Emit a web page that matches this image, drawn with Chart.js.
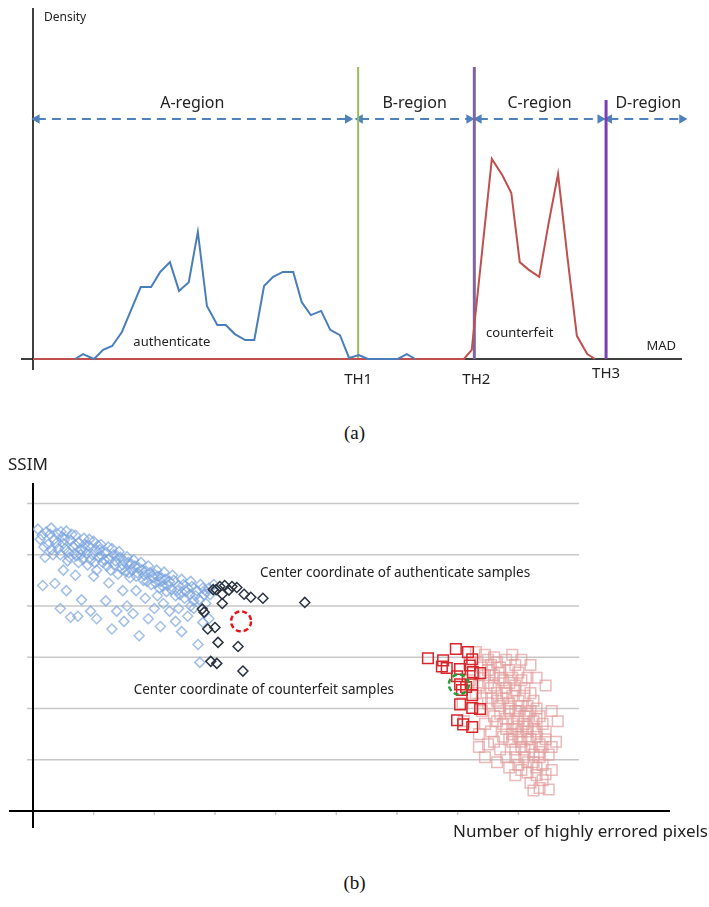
<!DOCTYPE html>
<html>
<head>
<meta charset="utf-8">
<script src="https://cdn.jsdelivr.net/npm/chart.js@4/dist/chart.umd.min.js"></script>
<style>
  body { margin: 0; background: #fff; }
  #page { position: relative; width: 709px; height: 907px; }
  canvas { position: absolute; left: 0; }
  #chartA { top: 0; }
  #chartB { top: 450px; }
  .cap { position: absolute; width: 709px; text-align: center; font-family: "Liberation Serif", "DejaVu Serif", serif; font-size: 19px; color: #111; }
</style>
</head>
<body>
<div id="page">
  <canvas id="chartA" width="709" height="400"></canvas>
  <div class="cap" style="top:422px;">(a)</div>
  <canvas id="chartB" width="709" height="400"></canvas>
  <div class="cap" style="top:872px;">(b)</div>
</div>
<script>
// ---------- (a) density of MAD ----------
const authMad = [6.5, 7.7, 9.4, 10.8, 12.2, 13.7, 15.3, 16.6, 18.2, 19.6, 21.1, 22.5, 24.0, 25.4, 26.8, 28.4, 29.7, 31.1, 32.7, 34.1, 35.6, 37.0, 38.5, 40.1, 41.4, 42.8, 44.4, 45.8, 47.3, 48.7, 50.2, 51.6, 56.2, 57.6, 58.9];
const authDensity = [0, 1.4, 0, 2.6, 3.7, 7.7, 14.8, 20.5, 20.5, 24.8, 27.6, 19.4, 21.9, 36.2, 15.1, 9.7, 9.7, 7.1, 5.4, 5.4, 20.8, 23.4, 24.8, 24.8, 16.2, 12.5, 13.7, 8.3, 6.8, 0.3, 1.1, 0, 0, 1.4, 0];
const fakeMad = [0, 66.4, 67.6, 70.7, 72.3, 73.7, 75.0, 76.4, 78.0, 79.4, 80.9, 82.4, 83.8, 85.4, 86.6];
const fakeDensity = [0, 0, 2.6, 57.0, 52.4, 47.3, 27.6, 25.4, 23.4, 38.2, 52.7, 28.2, 6.6, 1.4, 0];

const thresholdNames = ['TH1', 'TH2', 'TH3'];
const thresholdMad = [50.1, 68.0, 88.3];
const thresholdTop = [83.2, 83.2, 73.8];
const thresholdColors = ['#9bbb59', '#8064a2', '#7a3fb0'];

const regionNames = ['A-region', 'B-region', 'C-region', 'D-region'];
const regionStart = [0.6, 50.4, 68.7, 88.8];
const regionEnd = [48.5, 67.2, 87.4, 100];
const regionLevel = 68.4;

function pts(xs, ys) {
    return xs.map((x, i) => ({ x: x, y: ys[i] }));
}

const densityDatasets = [];
densityDatasets.push({ data: pts(authMad, authDensity), borderColor: '#4a7ebb', borderWidth: 2 });
densityDatasets.push({ data: pts(fakeMad, fakeDensity), borderColor: '#c0504d', borderWidth: 2 });
thresholdMad.forEach((th, i) => {
    densityDatasets.push({
        data: [{ x: th, y: 0 }, { x: th, y: thresholdTop[i] }],
        borderColor: thresholdColors[i],
        borderWidth: i === 0 ? 2 : 3
    });
});
regionNames.forEach((name, i) => {
    densityDatasets.push({
        data: [{ x: regionStart[i], y: regionLevel }, { x: regionEnd[i], y: regionLevel }],
        borderColor: '#4f81bd',
        backgroundColor: '#4f81bd',
        borderWidth: 2,
        borderDash: [9, 6],
        pointStyle: 'triangle',
        pointRadius: 3.5,
        pointRotation: [-90, 90]
    });
});

const densityDecor = {
    id: 'densityDecor',
    beforeDatasetsDraw(chart) {
        const { ctx, chartArea: a } = chart;
        ctx.save();
        ctx.strokeStyle = '#000';
        ctx.lineWidth = 1.5;
        ctx.beginPath();
        ctx.moveTo(a.left - 12, a.bottom);
        ctx.lineTo(a.right, a.bottom);
        ctx.moveTo(a.left, a.top);
        ctx.lineTo(a.left, a.bottom + 11);
        ctx.stroke();
        ctx.restore();
    },
    afterDatasetsDraw(chart) {
        const { ctx, chartArea: a, scales } = chart;
        const x = scales.x, y = scales.y;
        ctx.save();
        ctx.fillStyle = '#222';
        ctx.textBaseline = 'middle';
        ctx.textAlign = 'center';
        ctx.font = '16px "Noto Sans"';
        regionNames.forEach((name, i) => {
            const mid = (regionStart[i] + regionEnd[i]) / 2;
            ctx.fillText(name, x.getPixelForValue(i === 3 ? 94.8 : mid), y.getPixelForValue(regionLevel) - 15);
        });
        ctx.font = '15px "Noto Sans"';
        thresholdNames.forEach((name, i) => {
            ctx.fillText(name, x.getPixelForValue(thresholdMad[i]) + (i === 1 ? 2 : 0), a.bottom + (i === 2 ? 15 : 21));
        });
        ctx.font = '13px "Noto Sans"';
        ctx.fillText('authenticate', x.getPixelForValue(21.4), y.getPixelForValue(4.8));
        ctx.fillText('counterfeit', x.getPixelForValue(75.0), y.getPixelForValue(7.4));
        ctx.fillText('MAD', x.getPixelForValue(96.8), y.getPixelForValue(3.7));
        ctx.textAlign = 'left';
        ctx.font = '12px "Noto Sans"';
        ctx.fillText('Density', a.left + 11, a.top + 10);
        ctx.restore();
    }
};

new Chart(document.getElementById('chartA'), {
    type: 'scatter',
    data: { datasets: densityDatasets },
    options: {
        responsive: false,
        animation: false,
        showLine: true,
        layout: { padding: { left: 33, right: 27, top: 8, bottom: 41 } },
        elements: { point: { radius: 0 }, line: { tension: 0 } },
        datasets: { scatter: { clip: false } },
        plugins: { legend: { display: false }, tooltip: { enabled: false } },
        scales: {
            x: { type: 'linear', min: 0, max: 100, display: false },
            y: { type: 'linear', min: 0, max: 100, display: false }
        }
    },
    plugins: [densityDecor]
});

// ---------- (b) SSIM vs number of highly errored pixels ----------
const authenticLight = [
    [0.08, 5.50], [0.15, 5.38], [0.22, 5.45], [0.25, 5.20], [0.30, 5.52], [0.35, 5.30], [0.40, 5.41], [0.42, 5.12],
    [0.48, 5.35], [0.50, 5.22], [0.55, 5.46], [0.58, 5.05], [0.62, 5.28], [0.66, 5.15], [0.70, 5.38], [0.72, 4.98],
    [0.76, 5.24], [0.80, 5.10], [0.84, 5.32], [0.88, 5.02], [0.92, 5.18], [0.95, 4.90], [1.00, 5.26], [1.03, 5.08],
    [1.08, 4.95], [1.12, 5.20], [1.15, 4.85], [1.20, 5.05], [1.25, 4.92], [1.30, 5.12], [1.34, 4.80], [1.38, 4.98],
    [1.42, 5.06], [1.46, 4.72], [1.50, 4.88], [1.55, 4.96], [1.58, 4.65], [1.62, 4.82], [1.66, 4.90], [1.70, 4.58],
    [1.74, 4.75], [1.78, 4.85], [1.82, 4.50], [1.86, 4.68], [1.90, 4.78], [1.95, 4.42], [2.00, 4.62], [2.04, 4.70],
    [2.08, 4.35], [2.12, 4.55], [2.16, 4.66], [2.20, 4.28], [2.25, 4.48], [2.30, 4.60], [2.35, 4.20], [2.40, 4.40],
    [2.45, 4.52], [2.50, 4.15], [2.55, 4.35], [2.60, 4.48], [2.65, 4.10], [2.70, 4.30], [2.76, 4.42], [2.82, 4.22],
    [2.90, 4.35], [2.98, 4.42], [0.30, 5.10], [0.45, 5.00], [0.60, 4.95], [0.75, 4.85], [0.90, 4.80], [1.05, 4.70],
    [0.20, 4.95], [0.52, 5.30], [0.68, 5.02], [0.85, 5.20], [1.10, 5.10], [1.22, 4.78], [1.40, 4.62], [1.60, 4.55],
    [0.16, 4.40], [0.36, 4.44], [0.45, 3.95], [0.55, 4.30], [0.62, 3.78], [0.74, 3.80], [0.80, 4.12], [0.95, 3.90],
    [1.05, 3.75], [1.20, 4.10], [1.30, 3.55], [1.50, 3.70], [1.55, 4.00], [1.75, 3.42], [1.90, 3.75], [2.10, 3.60],
    [2.25, 3.90], [2.45, 3.50], [2.55, 3.80], [2.72, 3.25], [2.80, 3.68], [2.65, 3.95], [2.00, 3.95], [1.65, 3.85],
    [1.38, 3.90], [2.35, 3.70], [2.90, 3.75], [2.75, 2.90], [1.48, 4.30], [1.85, 4.15], [2.15, 4.05], [2.40, 3.95],
    [0.12, 5.30], [0.18, 5.15], [0.28, 5.40], [0.33, 5.00], [0.38, 5.22], [0.46, 5.45], [0.53, 5.12], [0.57, 4.88],
    [0.64, 5.40], [0.69, 5.20], [0.78, 5.00], [0.82, 4.92], [0.86, 5.12], [0.93, 5.30], [0.98, 5.00], [1.02, 4.85],
    [1.07, 5.18], [1.13, 4.98], [1.18, 4.90], [1.24, 5.15], [1.28, 4.70], [1.33, 5.00], [1.36, 4.88], [1.44, 4.95],
    [1.48, 4.80], [1.52, 4.68], [1.57, 4.85], [1.63, 4.70], [1.68, 4.78], [1.72, 4.65], [1.80, 4.70], [1.84, 4.60],
    [1.88, 4.48], [1.93, 4.65], [1.98, 4.55], [2.02, 4.45], [2.06, 4.58], [2.10, 4.48], [2.14, 4.38], [2.18, 4.52],
    [2.22, 4.40], [2.28, 4.32], [2.32, 4.50], [2.38, 4.30], [2.42, 4.22], [2.48, 4.42], [2.52, 4.28], [2.58, 4.22],
    [2.62, 4.38], [2.68, 4.20], [2.74, 4.12], [2.80, 4.35], [2.86, 4.28], [2.92, 4.22], [1.00, 4.58], [1.25, 4.45],
    [1.70, 4.30], [2.05, 4.20], [2.60, 4.00], [2.85, 4.05], [0.50, 4.70], [0.70, 4.60]
];
const authenticDark = [
    [2.97, 4.32], [3.08, 4.38], [3.16, 4.40], [3.23, 4.31], [3.36, 4.36], [3.12, 4.23], [3.48, 4.23], [3.59, 4.17],
    [3.79, 4.15], [3.12, 4.05], [4.48, 4.07], [2.79, 3.94], [2.82, 3.88], [3.00, 3.58], [2.88, 3.55], [3.05, 3.29],
    [3.38, 3.21], [2.93, 2.92], [3.03, 2.88], [3.46, 2.73], [3.02, 4.32], [3.28, 4.38]
];
const counterfeitLight = [
    [7.30, 3.10], [7.45, 3.05], [7.60, 3.00], [7.55, 2.85], [7.70, 2.80], [7.85, 2.75], [7.40, 2.80], [7.90, 2.60],
    [7.75, 2.55], [7.60, 2.65], [8.05, 2.55], [8.10, 2.40], [7.95, 2.35], [7.50, 2.50], [7.80, 2.40], [8.20, 2.30],
    [7.65, 2.30], [8.00, 2.15], [7.85, 2.10], [8.15, 2.05], [7.70, 2.05], [8.30, 2.00], [7.55, 2.20], [7.95, 1.95],
    [8.10, 1.85], [7.80, 1.80], [8.25, 1.75], [8.40, 1.70], [7.65, 1.75], [8.00, 1.65], [8.15, 1.55], [7.90, 1.50],
    [8.30, 1.45], [8.45, 1.40], [7.75, 1.45], [8.05, 1.35], [8.20, 1.25], [7.95, 1.20], [8.35, 1.15], [8.50, 1.10],
    [8.10, 1.05], [8.25, 0.95], [8.40, 0.90], [8.00, 0.90], [8.15, 0.75], [8.30, 0.70], [8.45, 0.72], [8.20, 0.55],
    [8.35, 0.45], [8.50, 0.42], [8.65, 1.75], [8.62, 1.35], [7.08, 2.10], [7.10, 1.75], [7.35, 1.25], [7.45, 1.05],
    [7.60, 1.35], [7.65, 0.95], [7.85, 0.85], [8.55, 1.95], [8.45, 2.45], [8.30, 2.60], [8.20, 2.85], [8.05, 2.95],
    [7.90, 3.05], [7.20, 2.55], [7.30, 2.30], [7.40, 1.95], [7.55, 1.55], [7.20, 2.90], [7.75, 2.20], [7.90, 2.25],
    [8.05, 2.05], [7.85, 1.95], [8.20, 1.95], [7.70, 1.90], [8.00, 1.80], [8.35, 1.85], [7.90, 1.70], [8.10, 1.70],
    [8.25, 1.60], [7.80, 1.60], [8.00, 1.45], [8.15, 1.40], [8.35, 1.30], [7.90, 1.35], [8.10, 1.20], [8.25, 1.10],
    [8.40, 1.25], [7.95, 1.05], [8.30, 0.85], [8.05, 1.55], [7.60, 2.45], [7.85, 2.50], [8.00, 2.70], [7.70, 2.70],
    [7.50, 2.95], [8.15, 2.60], [7.45, 2.65], [7.50, 2.75], [7.65, 2.90], [7.80, 2.95], [7.95, 2.85], [7.70, 2.60],
    [7.55, 2.40], [7.80, 2.30], [7.95, 2.45], [8.10, 2.25], [8.25, 2.15], [7.65, 2.15], [7.85, 2.00], [8.00, 1.95],
    [8.15, 1.90], [8.30, 1.80], [7.75, 1.70], [7.95, 1.60], [8.15, 1.65], [8.30, 1.55], [8.45, 1.55], [7.85, 1.40],
    [8.05, 1.25], [8.20, 1.40], [8.35, 1.05], [8.15, 0.95], [8.05, 0.80], [8.40, 0.60], [8.25, 0.40], [8.55, 0.80],
    [8.55, 1.25], [7.40, 2.20], [7.35, 2.45], [7.50, 2.10], [7.45, 1.70], [7.60, 1.85], [7.35, 1.50], [7.70, 1.20],
    [7.50, 1.30], [7.80, 1.05], [7.95, 0.70]
];
const counterfeitDark = [
    [6.51, 2.98], [6.76, 2.94], [6.97, 3.16], [7.17, 3.10], [7.24, 2.96], [6.82, 2.79], [7.04, 2.77], [6.99, 2.63],
    [7.25, 2.71], [7.37, 2.69], [7.24, 2.47], [7.04, 2.47], [7.14, 2.42], [7.24, 2.26], [7.04, 2.08], [7.24, 2.01],
    [7.37, 1.99], [6.99, 1.77], [7.09, 1.69], [7.24, 1.64], [6.74, 2.82], [7.20, 2.84], [7.07, 2.36]
];
const ssimGrid = [1, 2, 3, 4, 5, 6];
const pixelTicks = [1, 2, 3, 4, 5, 6, 7, 8, 9];
const authCenter = [3.43, 3.70];
const fakeCenter = [7.02, 2.47];

function xy(list) {
    return list.map(p => ({ x: p[0], y: p[1] }));
}

const scatterDecor = {
    id: 'scatterDecor',
    beforeDatasetsDraw(chart) {
        const { ctx, chartArea: a, scales } = chart;
        const x = scales.x, y = scales.y;
        const gridEnd = x.getPixelForValue(9);
        ctx.save();
        ctx.strokeStyle = '#c8c8c8';
        ctx.lineWidth = 1.5;
        ctx.beginPath();
        ssimGrid.forEach(v => {
            const py = y.getPixelForValue(v);
            ctx.moveTo(a.left - 6, py);
            ctx.lineTo(gridEnd, py);
        });
        pixelTicks.forEach(v => {
            const px = x.getPixelForValue(v);
            ctx.moveTo(px, a.bottom);
            ctx.lineTo(px, a.bottom + 4);
        });
        ctx.stroke();
        ctx.strokeStyle = '#000';
        ctx.lineWidth = 2;
        ctx.beginPath();
        ctx.moveTo(a.left - 24, a.bottom);
        ctx.lineTo(a.right, a.bottom);
        ctx.moveTo(a.left, a.top);
        ctx.lineTo(a.left, a.bottom + 17);
        ctx.stroke();
        ctx.restore();
    },
    afterDatasetsDraw(chart) {
        const { ctx, chartArea: a, scales } = chart;
        const x = scales.x, y = scales.y;
        ctx.save();
        // dashed circles round the two centres
        ctx.lineWidth = 2.5;
        ctx.setLineDash([5, 3]);
        ctx.strokeStyle = '#e3161b';
        ctx.beginPath();
        ctx.arc(x.getPixelForValue(authCenter[0]), y.getPixelForValue(authCenter[1]), 10, 0, Math.PI * 2);
        ctx.stroke();
        ctx.strokeStyle = '#1fa13a';
        ctx.beginPath();
        ctx.arc(x.getPixelForValue(fakeCenter[0]), y.getPixelForValue(fakeCenter[1]), 10, 0, Math.PI * 2);
        ctx.stroke();
        ctx.setLineDash([]);

        ctx.fillStyle = '#222';
        ctx.textBaseline = 'middle';
        ctx.textAlign = 'left';
        ctx.font = '13.5px "Noto Sans"';
        ctx.fillText('Center coordinate of authenticate samples', x.getPixelForValue(3.74), y.getPixelForValue(4.64));
        ctx.fillText('Center coordinate of counterfeit samples', x.getPixelForValue(1.66), y.getPixelForValue(2.36));
        ctx.font = '17px "Noto Sans"';
        ctx.fillText('SSIM', a.left - 25, a.top - 18);
        ctx.textAlign = 'right';
        ctx.fillText('Number of highly errored pixels', 708, a.bottom + 21);
        ctx.restore();
    }
};

new Chart(document.getElementById('chartB'), {
    type: 'scatter',
    data: {
        datasets: [
            { data: xy(authenticDark), pointStyle: 'rectRot', pointRadius: 5, borderColor: '#2a3340', borderWidth: 1.5, backgroundColor: 'rgba(0,0,0,0)', order: 1 },
            { data: xy(counterfeitDark), pointStyle: 'rect', pointRadius: 7.5, borderColor: '#d8262b', borderWidth: 1.5, backgroundColor: 'rgba(0,0,0,0)', order: 1 },
            { data: xy(authenticLight), pointStyle: 'rectRot', pointRadius: 5, borderColor: 'rgba(122,164,222,0.7)', borderWidth: 1.5, backgroundColor: 'rgba(0,0,0,0)', order: 2 },
            { data: xy(counterfeitLight), pointStyle: 'rect', pointRadius: 7.5, borderColor: 'rgba(226,156,156,0.7)', borderWidth: 1.5, backgroundColor: 'rgba(0,0,0,0)', order: 2 }
        ]
    },
    options: {
        responsive: false,
        animation: false,
        layout: { padding: { left: 33, right: 39, top: 33, bottom: 39 } },
        plugins: { legend: { display: false }, tooltip: { enabled: false } },
        scales: {
            x: { type: 'linear', min: 0, max: 10.5, display: false },
            y: { type: 'linear', min: 0, max: 6.4, display: false }
        }
    },
    plugins: [scatterDecor]
});
</script>
</body>
</html>
